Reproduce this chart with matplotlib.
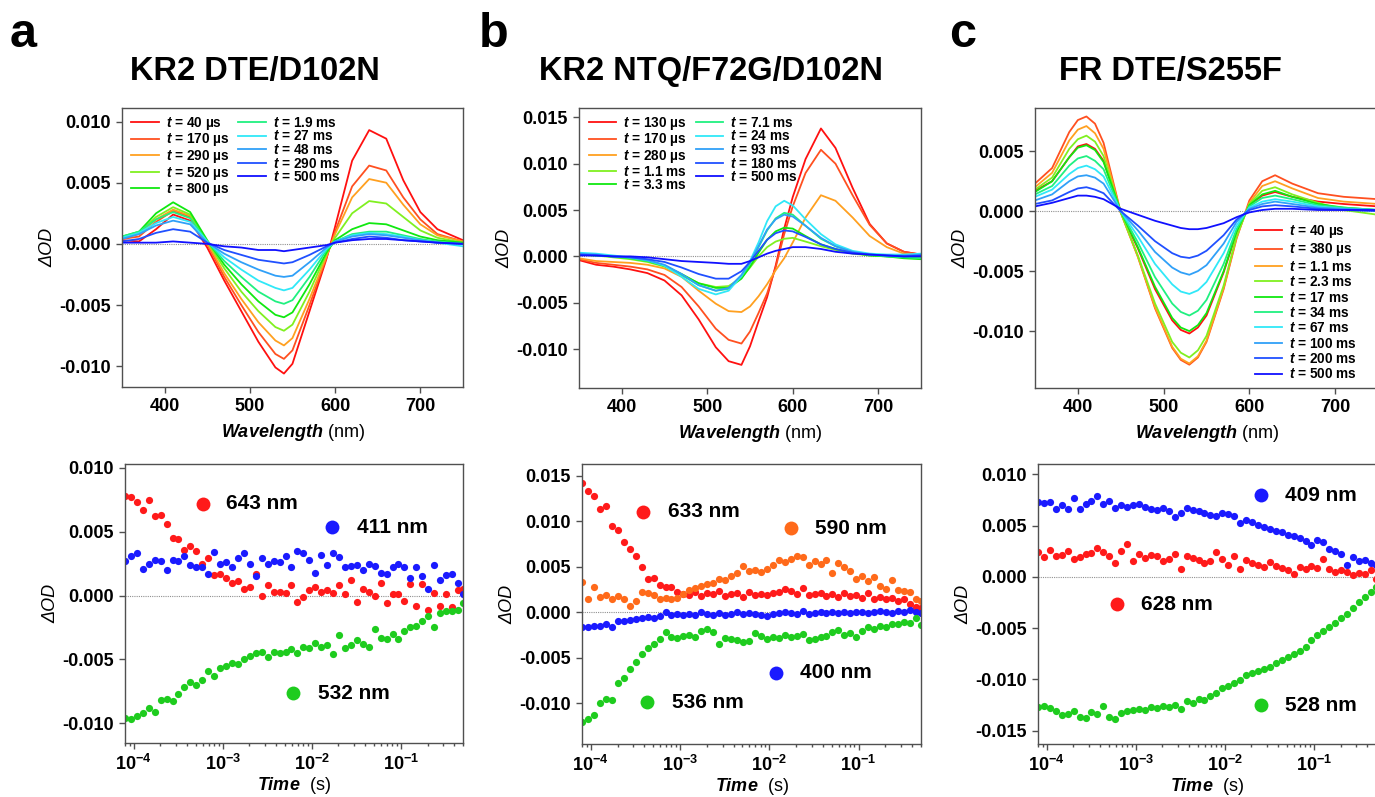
import matplotlib as mpl
mpl.use('Agg')
import matplotlib.pyplot as plt
import matplotlib.ticker as ticker
import numpy as np

plt.rcParams['font.family'] = ['Liberation Sans', 'DejaVu Sans']
plt.rcParams['font.weight'] = 'bold'
plt.rcParams['mathtext.fontset'] = 'custom'
plt.rcParams['mathtext.it'] = 'Liberation Sans:italic:bold'
plt.rcParams['mathtext.rm'] = 'Liberation Sans:bold'
plt.rcParams['mathtext.bf'] = 'Liberation Sans:bold'

# ---------------- spectra data ----------------
WL_A = [350, 370, 390, 410, 430, 450, 470, 490, 510, 530, 540, 550, 570, 590, 600, 620, 640, 660, 680, 700, 720, 750]
LABELS_A = ['40 µs', '170 µs', '290 µs', '520 µs', '800 µs', '1.9 ms', '27 ms', '48 ms', '290 ms', '500 ms']
SPEC_A = [
    [0.0003, 0.0002, 0.0012, 0.0024, 0.0019, -0.0003, -0.0030, -0.0055, -0.0080, -0.0101, -0.0106, -0.0098, -0.0055, -0.0012, 0.0014, 0.0068, 0.0093, 0.0086, 0.0052, 0.0026, 0.0012, 0.0003],
    [0.0004, 0.0006, 0.0018, 0.0027, 0.0022, 0.0000, -0.0027, -0.0050, -0.0072, -0.0090, -0.0094, -0.0087, -0.0050, -0.0011, 0.0010, 0.0047, 0.0064, 0.0060, 0.0038, 0.0020, 0.0008, 0.0002],
    [0.0005, 0.0008, 0.0020, 0.0028, 0.0023, 0.0001, -0.0024, -0.0045, -0.0064, -0.0079, -0.0083, -0.0077, -0.0045, -0.0010, 0.0008, 0.0038, 0.0053, 0.0050, 0.0032, 0.0016, 0.0007, 0.0002],
    [0.0005, 0.0009, 0.0022, 0.0030, 0.0024, 0.0002, -0.0020, -0.0039, -0.0055, -0.0068, -0.0071, -0.0066, -0.0039, -0.0008, 0.0005, 0.0025, 0.0035, 0.0033, 0.0022, 0.0011, 0.0005, 0.0001],
    [0.0006, 0.0010, 0.0025, 0.0034, 0.0026, 0.0003, -0.0017, -0.0033, -0.0047, -0.0058, -0.0060, -0.0056, -0.0033, -0.0007, 0.0003, 0.0012, 0.0017, 0.0016, 0.0011, 0.0006, 0.0003, 0.0001],
    [0.0006, 0.0010, 0.0020, 0.0026, 0.0021, 0.0002, -0.0014, -0.0027, -0.0039, -0.0047, -0.0049, -0.0046, -0.0027, -0.0005, 0.0002, 0.0008, 0.0010, 0.0010, 0.0007, 0.0004, 0.0002, 0.0000],
    [0.0005, 0.0009, 0.0017, 0.0022, 0.0018, 0.0002, -0.0011, -0.0021, -0.0030, -0.0036, -0.0038, -0.0036, -0.0021, -0.0004, 0.0002, 0.0007, 0.0009, 0.0008, 0.0006, 0.0003, 0.0001, -0.0002],
    [0.0004, 0.0008, 0.0015, 0.0019, 0.0016, 0.0001, -0.0008, -0.0015, -0.0021, -0.0026, -0.0027, -0.0026, -0.0015, -0.0003, 0.0002, 0.0006, 0.0008, 0.0007, 0.0005, 0.0003, 0.0001, 0.0000],
    [0.0002, 0.0004, 0.0009, 0.0012, 0.0010, 0.0001, -0.0005, -0.0009, -0.0013, -0.0015, -0.0016, -0.0015, -0.0009, -0.0002, 0.0001, 0.0004, 0.0006, 0.0005, 0.0003, 0.0002, 0.0001, 0.0000],
    [0.0001, 0.0001, 0.0001, 0.0002, 0.0001, 0.0000, -0.0002, -0.0003, -0.0005, -0.0005, -0.0006, -0.0005, -0.0003, -0.0001, 0.0001, 0.0003, 0.0004, 0.0004, 0.0003, 0.0002, 0.0001, 0.0000],
]

WL_B = [350, 370, 390, 410, 430, 450, 470, 490, 510, 525, 540, 550, 560, 570, 580, 590, 600, 615, 633, 650, 670, 690, 710, 730, 750]
LABELS_B = ['130 µs', '170 µs', '280 µs', '1.1 ms', '3.3 ms', '7.1 ms', '24 ms', '93 ms', '180 ms', '500 ms']
SPEC_B = [
    [-0.0004, -0.0009, -0.0011, -0.0014, -0.0018, -0.0026, -0.0042, -0.0068, -0.0098, -0.0113, -0.0117, -0.0097, -0.0070, -0.0044, -0.0010, 0.0030, 0.0064, 0.0105, 0.0138, 0.0117, 0.0074, 0.0035, 0.0014, 0.0005, 0.0002],
    [-0.0003, -0.0007, -0.0009, -0.0011, -0.0014, -0.0020, -0.0033, -0.0054, -0.0078, -0.0090, -0.0094, -0.0081, -0.0061, -0.0040, -0.0012, 0.0024, 0.0054, 0.0090, 0.0115, 0.0100, 0.0066, 0.0034, 0.0014, 0.0005, 0.0002],
    [-0.0002, -0.0005, -0.0006, -0.0007, -0.0009, -0.0013, -0.0022, -0.0037, -0.0051, -0.0059, -0.0060, -0.0054, -0.0043, -0.0030, -0.0015, -0.0002, 0.0015, 0.0042, 0.0066, 0.0060, 0.0042, 0.0022, 0.0010, 0.0003, 0.0001],
    [0.0002, 0.0001, -0.0001, -0.0003, -0.0006, -0.0011, -0.0020, -0.0029, -0.0033, -0.0032, -0.0023, -0.0012, 0.0000, 0.0010, 0.0016, 0.0019, 0.0020, 0.0016, 0.0011, 0.0007, 0.0003, 0.0001, 0.0000, -0.0001, -0.0001],
    [0.0002, 0.0001, 0.0000, -0.0002, -0.0005, -0.0010, -0.0019, -0.0029, -0.0034, -0.0034, -0.0024, -0.0011, 0.0004, 0.0018, 0.0027, 0.0031, 0.0030, 0.0022, 0.0013, 0.0008, 0.0004, 0.0001, 0.0000, -0.0002, -0.0003],
    [0.0002, 0.0001, 0.0000, -0.0002, -0.0005, -0.0010, -0.0020, -0.0031, -0.0037, -0.0035, -0.0022, -0.0008, 0.0010, 0.0028, 0.0041, 0.0047, 0.0045, 0.0033, 0.0019, 0.0011, 0.0005, 0.0002, 0.0000, -0.0001, -0.0002],
    [0.0004, 0.0003, 0.0001, -0.0001, -0.0004, -0.0010, -0.0022, -0.0035, -0.0041, -0.0037, -0.0021, -0.0005, 0.0015, 0.0038, 0.0054, 0.0060, 0.0055, 0.0040, 0.0024, 0.0013, 0.0006, 0.0003, 0.0002, 0.0002, 0.0003],
    [0.0003, 0.0002, 0.0000, -0.0001, -0.0004, -0.0009, -0.0019, -0.0031, -0.0037, -0.0034, -0.0020, -0.0006, 0.0011, 0.0029, 0.0040, 0.0045, 0.0043, 0.0033, 0.0020, 0.0011, 0.0005, 0.0002, 0.0001, 0.0001, 0.0002],
    [0.0002, 0.0001, 0.0000, -0.0001, -0.0003, -0.0006, -0.0012, -0.0019, -0.0024, -0.0024, -0.0016, -0.0006, 0.0006, 0.0018, 0.0025, 0.0028, 0.0027, 0.0021, 0.0013, 0.0008, 0.0004, 0.0002, 0.0001, 0.0000, 0.0001],
    [0.0001, 0.0001, 0.0000, 0.0000, -0.0001, -0.0003, -0.0005, -0.0006, -0.0007, -0.0008, -0.0008, -0.0005, -0.0001, 0.0003, 0.0006, 0.0008, 0.0010, 0.0010, 0.0008, 0.0005, 0.0003, 0.0002, 0.0001, 0.0000, 0.0000],
]

WL_C = [350, 370, 390, 400, 410, 420, 430, 450, 470, 490, 510, 520, 530, 540, 550, 570, 585, 600, 615, 630, 650, 680, 710, 750]
LABELS_C = ['40 µs', '380 µs', '1.1 ms', '2.3 ms', '17 ms', '34 ms', '67 ms', '100 ms', '200 ms', '500 ms']
SPEC_C = [
    [0.0017, 0.0025, 0.0045, 0.0054, 0.0056, 0.0052, 0.0042, -0.0001, -0.0031, -0.0065, -0.0091, -0.0099, -0.0102, -0.0097, -0.0087, -0.0051, -0.0018, 0.0005, 0.0013, 0.0016, 0.0012, 0.0008, 0.0006, 0.0004],
    [0.0023, 0.0036, 0.0066, 0.0076, 0.0079, 0.0073, 0.0057, -0.0001, -0.0038, -0.0081, -0.0114, -0.0124, -0.0128, -0.0122, -0.0109, -0.0065, -0.0023, 0.0009, 0.0025, 0.0030, 0.0023, 0.0015, 0.0012, 0.0010],
    [0.0020, 0.0032, 0.0059, 0.0068, 0.0071, 0.0065, 0.0052, -0.0001, -0.0038, -0.0080, -0.0113, -0.0123, -0.0127, -0.0121, -0.0108, -0.0064, -0.0022, 0.0007, 0.0021, 0.0025, 0.0019, 0.0011, 0.0008, 0.0006],
    [0.0018, 0.0028, 0.0052, 0.0060, 0.0063, 0.0058, 0.0046, -0.0001, -0.0037, -0.0077, -0.0109, -0.0118, -0.0122, -0.0116, -0.0104, -0.0062, -0.0021, 0.0006, 0.0017, 0.0020, 0.0014, 0.0007, 0.0001, -0.0003],
    [0.0016, 0.0025, 0.0045, 0.0053, 0.0055, 0.0051, 0.0041, 0.0000, -0.0030, -0.0063, -0.0089, -0.0097, -0.0100, -0.0095, -0.0085, -0.0050, -0.0017, 0.0005, 0.0014, 0.0017, 0.0012, 0.0006, 0.0003, 0.0001],
    [0.0014, 0.0021, 0.0038, 0.0044, 0.0046, 0.0042, 0.0035, 0.0000, -0.0026, -0.0055, -0.0077, -0.0084, -0.0087, -0.0083, -0.0074, -0.0044, -0.0015, 0.0004, 0.0011, 0.0013, 0.0010, 0.0005, 0.0003, 0.0001],
    [0.0012, 0.0018, 0.0031, 0.0036, 0.0038, 0.0035, 0.0029, 0.0000, -0.0021, -0.0044, -0.0061, -0.0067, -0.0069, -0.0066, -0.0059, -0.0035, -0.0012, 0.0003, 0.0008, 0.0010, 0.0008, 0.0004, 0.0002, 0.0001],
    [0.0009, 0.0014, 0.0025, 0.0029, 0.0030, 0.0028, 0.0023, 0.0000, -0.0016, -0.0034, -0.0047, -0.0051, -0.0053, -0.0050, -0.0045, -0.0027, -0.0009, 0.0002, 0.0006, 0.0008, 0.0006, 0.0003, 0.0002, 0.0001],
    [0.0006, 0.0009, 0.0016, 0.0019, 0.0020, 0.0018, 0.0015, 0.0000, -0.0012, -0.0025, -0.0035, -0.0038, -0.0039, -0.0037, -0.0033, -0.0020, -0.0007, 0.0001, 0.0004, 0.0005, 0.0004, 0.0002, 0.0001, 0.0000],
    [0.0004, 0.0007, 0.0011, 0.0013, 0.0013, 0.0012, 0.0010, 0.0002, -0.0003, -0.0008, -0.0012, -0.0014, -0.0015, -0.0015, -0.0014, -0.0010, -0.0005, -0.0001, 0.0001, 0.0002, 0.0002, 0.0001, 0.0001, 0.0001],
]

SPEC_COLORS = ['#ff1010', '#ff5020', '#ffa020', '#80f020', '#10e810',
               '#20f080', '#30e8f8', '#30a0f8', '#2050ff', '#1010ff']

# ---------------- kinetics data ----------------
TIME = [8.0e-5, 9.33e-5, 1.09e-4, 1.27e-4, 1.48e-4, 1.73e-4, 2.01e-4, 2.35e-4, 2.74e-4, 3.19e-4,
        3.72e-4, 4.34e-4, 5.06e-4, 5.90e-4, 6.89e-4, 8.03e-4, 9.36e-4, 1.09e-3, 1.27e-3, 1.49e-3,
        1.73e-3, 2.02e-3, 2.36e-3, 2.75e-3, 3.20e-3, 3.74e-3, 4.36e-3, 5.08e-3, 5.93e-3, 6.91e-3,
        8.06e-3, 9.40e-3, 1.10e-2, 1.28e-2, 1.49e-2, 1.74e-2, 2.03e-2, 2.36e-2, 2.76e-2, 3.22e-2,
        3.75e-2, 4.37e-2, 5.10e-2, 5.95e-2, 6.94e-2, 8.09e-2, 9.43e-2, 0.110, 0.128, 0.150,
        0.174, 0.203, 0.237, 0.277, 0.323, 0.376, 0.439, 0.50]

KIN_A_643 = [0.0078, 0.0077, 0.0073, 0.0067, 0.0075, 0.0062, 0.0063, 0.0056, 0.0045, 0.0044,
             0.0036, 0.0039, 0.0035, 0.0025, 0.0029, 0.0016, 0.0017, 0.0014, 0.0010, 0.0011,
             0.0005, 0.0007, 0.0017, 0.0000, 0.0008, 0.0003, 0.0003, 0.0002, 0.0008, -0.0005,
             -0.0001, 0.0004, 0.0007, 0.0003, 0.0004, 0.0002, 0.0008, 0.0001, 0.0012, -0.0005,
             0.0005, 0.0003, 0.0000, 0.0010, -0.0006, 0.0001, 0.0001, -0.0004, 0.0009, -0.0008,
             0.0009, -0.0011, 0.0002, -0.0008, 0.0001, -0.0009, 0.0004, 0.0005]
KIN_A_411 = [0.0027, 0.0031, 0.0033, 0.0021, 0.0025, 0.0028, 0.0027, 0.0020, 0.0028, 0.0027,
             0.0031, 0.0024, 0.0022, 0.0022, 0.0017, 0.0034, 0.0025, 0.0026, 0.0022, 0.0029,
             0.0033, 0.0025, 0.0015, 0.0029, 0.0025, 0.0027, 0.0026, 0.0031, 0.0022, 0.0035,
             0.0033, 0.0028, 0.0018, 0.0032, 0.0024, 0.0033, 0.0030, 0.0022, 0.0023, 0.0024,
             0.0020, 0.0025, 0.0023, 0.0018, 0.0017, 0.0022, 0.0025, 0.0022, 0.0014, 0.0022,
             0.0015, 0.0005, 0.0024, 0.0012, 0.0016, 0.0017, 0.0010, 0.0001]
KIN_A_532 = [-0.0096, -0.0097, -0.0094, -0.0092, -0.0088, -0.0091, -0.0082, -0.0081, -0.0083, -0.0077,
             -0.0072, -0.0068, -0.0070, -0.0066, -0.0059, -0.0063, -0.0057, -0.0055, -0.0053, -0.0054,
             -0.0050, -0.0047, -0.0045, -0.0044, -0.0048, -0.0044, -0.0045, -0.0044, -0.0042, -0.0045,
             -0.0040, -0.0041, -0.0037, -0.0040, -0.0039, -0.0046, -0.0031, -0.0041, -0.0039, -0.0035,
             -0.0038, -0.0040, -0.0026, -0.0033, -0.0034, -0.0030, -0.0034, -0.0028, -0.0025, -0.0024,
             -0.0020, -0.0016, -0.0025, -0.0014, -0.0012, -0.0012, -0.0011, -0.0006]

KIN_B_633 = [0.0142, 0.0133, 0.0128, 0.0113, 0.0117, 0.0095, 0.0090, 0.0077, 0.0069, 0.0062,
             0.0050, 0.0037, 0.0038, 0.0030, 0.0028, 0.0028, 0.0022, 0.0020, 0.0019, 0.0022,
             0.0018, 0.0021, 0.0020, 0.0023, 0.0018, 0.0020, 0.0021, 0.0017, 0.0022, 0.0019,
             0.0020, 0.0019, 0.0021, 0.0022, 0.0025, 0.0023, 0.0020, 0.0027, 0.0019, 0.0020,
             0.0021, 0.0018, 0.0020, 0.0017, 0.0021, 0.0018, 0.0019, 0.0016, 0.0021, 0.0014,
             0.0017, 0.0014, 0.0016, 0.0012, 0.0014, 0.0009, 0.0006, 0.0005]
KIN_B_590 = [0.0033, 0.0015, 0.0028, 0.0017, 0.0019, 0.0015, 0.0018, 0.0015, 0.0007, 0.0012,
             0.0022, 0.0021, 0.0019, 0.0015, 0.0016, 0.0014, 0.0016, 0.0020, 0.0024, 0.0027,
             0.0029, 0.0031, 0.0032, 0.0037, 0.0035, 0.0040, 0.0043, 0.0051, 0.0045, 0.0046,
             0.0044, 0.0048, 0.0052, 0.0057, 0.0055, 0.0059, 0.0062, 0.0061, 0.0052, 0.0056,
             0.0053, 0.0057, 0.0043, 0.0054, 0.0050, 0.0045, 0.0037, 0.0040, 0.0034, 0.0039,
             0.0029, 0.0025, 0.0035, 0.0024, 0.0023, 0.0022, 0.0014, 0.0012]
KIN_B_400 = [-0.0016, -0.0016, -0.0015, -0.0015, -0.0013, -0.0016, -0.0010, -0.0010, -0.0009, -0.0008,
             -0.0006, -0.0005, -0.0006, -0.0004, 0.0000, -0.0003, -0.0002, -0.0003, -0.0002, -0.0003,
             0.0000, -0.0002, -0.0003, -0.0001, -0.0003, -0.0002, 0.0000, -0.0002, -0.0001, -0.0002,
             -0.0003, -0.0004, -0.0002, -0.0001, 0.0000, -0.0001, -0.0002, 0.0001, -0.0002, -0.0001,
             0.0000, -0.0001, 0.0000, -0.0001, 0.0000, -0.0001, 0.0000, 0.0000, -0.0001, 0.0000,
             0.0001, 0.0000, -0.0001, 0.0001, 0.0000, 0.0002, 0.0000, -0.0001]
KIN_B_536 = [-0.0121, -0.0117, -0.0113, -0.0100, -0.0096, -0.0097, -0.0078, -0.0072, -0.0062, -0.0055,
             -0.0046, -0.0039, -0.0035, -0.0030, -0.0022, -0.0027, -0.0028, -0.0026, -0.0025, -0.0027,
             -0.0021, -0.0019, -0.0022, -0.0035, -0.0028, -0.0030, -0.0031, -0.0033, -0.0032, -0.0023,
             -0.0026, -0.0029, -0.0027, -0.0028, -0.0025, -0.0027, -0.0026, -0.0024, -0.0031, -0.0030,
             -0.0027, -0.0026, -0.0022, -0.0020, -0.0025, -0.0023, -0.0027, -0.0021, -0.0016, -0.0018,
             -0.0015, -0.0016, -0.0013, -0.0013, -0.0011, -0.0012, -0.0006, -0.0014]

KIN_C_409 = [0.0073, 0.0072, 0.0073, 0.0066, 0.0070, 0.0066, 0.0077, 0.0066, 0.0071, 0.0074,
             0.0079, 0.0071, 0.0074, 0.0067, 0.0070, 0.0068, 0.0070, 0.0071, 0.0068, 0.0066,
             0.0065, 0.0067, 0.0064, 0.0058, 0.0062, 0.0067, 0.0065, 0.0064, 0.0062, 0.0060,
             0.0059, 0.0062, 0.0061, 0.0059, 0.0052, 0.0055, 0.0053, 0.0051, 0.0049, 0.0047,
             0.0045, 0.0044, 0.0041, 0.0040, 0.0038, 0.0035, 0.0031, 0.0036, 0.0034, 0.0027,
             0.0025, 0.0022, 0.0012, 0.0019, 0.0015, 0.0016, 0.0013, 0.0012]
KIN_C_628 = [0.0024, 0.0019, 0.0026, 0.0020, 0.0021, 0.0025, 0.0017, 0.0019, 0.0022, 0.0023,
             0.0028, 0.0024, 0.0020, 0.0013, 0.0025, 0.0032, 0.0015, 0.0022, 0.0018, 0.0021,
             0.0020, 0.0015, 0.0017, 0.0022, 0.0008, 0.0020, 0.0018, 0.0016, 0.0013, 0.0015,
             0.0024, 0.0017, 0.0012, 0.0020, 0.0008, 0.0016, 0.0013, 0.0012, 0.0010, 0.0014,
             0.0011, 0.0009, 0.0007, 0.0003, 0.0010, 0.0008, 0.0011, 0.0009, 0.0017, 0.0008,
             0.0005, 0.0007, 0.0005, 0.0002, 0.0004, 0.0003, 0.0007, -0.0002]
KIN_C_528 = [-0.0127, -0.0126, -0.0128, -0.0131, -0.0135, -0.0134, -0.0131, -0.0137, -0.0138, -0.0132,
             -0.0134, -0.0126, -0.0137, -0.0139, -0.0133, -0.0131, -0.0130, -0.0129, -0.0130, -0.0127,
             -0.0128, -0.0126, -0.0127, -0.0125, -0.0129, -0.0121, -0.0123, -0.0119, -0.0120, -0.0116,
             -0.0113, -0.0108, -0.0106, -0.0104, -0.0101, -0.0096, -0.0094, -0.0092, -0.0090, -0.0088,
             -0.0084, -0.0081, -0.0078, -0.0075, -0.0072, -0.0068, -0.0062, -0.0057, -0.0053, -0.0049,
             -0.0045, -0.0040, -0.0036, -0.0030, -0.0025, -0.0020, -0.0015, -0.0010]

RED, ORANGE, GREEN, BLUE = '#ff1a1a', '#ff6a1a', '#1ecc1e', '#1a1aff'

FRAME = '#505050'


def style_axes(ax):
    for sp in ax.spines.values():
        sp.set_color(FRAME)
        sp.set_linewidth(1.0)
    ax.tick_params(which='both', direction='out', color=FRAME, width=1.0,
                   labelsize=13, labelcolor='black')
    ax.tick_params(which='major', length=4.5)
    ax.tick_params(which='minor', length=2.5)
    ax.yaxis.set_major_formatter(ticker.FormatStrFormatter('%.3f'))
    ax.axhline(0, color='#909090', lw=0.8, ls=(0, (1, 1)), zorder=0)
    ax.set_ylabel('ΔOD', fontsize=13, fontstyle='italic', labelpad=2)


def spectra_panel(ax, wl, spectra, labels, ylim, yticks):
    for y, c, lab in zip(spectra, SPEC_COLORS, labels):
        ax.plot(wl, y, color=c, lw=1.3, label='$t$ = ' + lab)
    ax.set_xlim(350, 750)
    ax.set_ylim(*ylim)
    ax.set_xticks([400, 500, 600, 700])
    ax.set_yticks(yticks)
    style_axes(ax)
    ax.set_xlabel('$Wavelength$ (nm)', fontsize=13, labelpad=5)


def kinetics_panel(ax, series, ylim, yticks):
    for y, c, name, dot_xy, txt_x in series:
        ax.plot(TIME, y, 'o', color=c, ms=5.2, mec='none')
        ax.plot([dot_xy[0]], [dot_xy[1]], 'o', color=c, ms=10, mec='none',
                transform=ax.transAxes, clip_on=False)
        ax.text(txt_x, dot_xy[1], name, transform=ax.transAxes, fontsize=15,
                va='center', ha='left')
    ax.set_xscale('log')
    ax.set_xlim(8.0e-5, 0.5)
    ax.set_ylim(*ylim)
    ax.set_yticks(yticks)
    ax.xaxis.set_minor_locator(ticker.LogLocator(base=10, subs=np.arange(2, 10)))
    ax.xaxis.set_minor_formatter(ticker.NullFormatter())
    style_axes(ax)
    ax.set_xlabel('$Time$  (s)', fontsize=13, labelpad=0.5)


LEG_KW = dict(frameon=False, fontsize=9.8, handlelength=2.0,
              handletextpad=0.5, borderaxespad=0.3)

fig = plt.figure(figsize=(13.75, 7.97), dpi=100)

# top row: transient spectra
ax_a = fig.add_axes([0.0887, 0.5144, 0.2480, 0.3500])
spectra_panel(ax_a, WL_A, SPEC_A, LABELS_A, (-0.0117, 0.0111),
              [-0.010, -0.005, 0.0, 0.005, 0.010])
ax_a.legend(loc='upper left', bbox_to_anchor=(0.0, 1.01), ncol=2, columnspacing=0.7,
            labelspacing=-0.03, **LEG_KW)

ax_b = fig.add_axes([0.4211, 0.5131, 0.2487, 0.3513])
spectra_panel(ax_b, WL_B, SPEC_B, LABELS_B, (-0.0142, 0.0160),
              [-0.010, -0.005, 0.0, 0.005, 0.010, 0.015])
ax_b.legend(loc='upper left', bbox_to_anchor=(0.0, 1.01), ncol=2, columnspacing=0.7,
            labelspacing=-0.03, **LEG_KW)

ax_c = fig.add_axes([0.7527, 0.5131, 0.2495, 0.3513])
spectra_panel(ax_c, WL_C, SPEC_C, LABELS_C, (-0.01475, 0.0086),
              [-0.010, -0.005, 0.0, 0.005])
ax_c.legend(loc='lower right', bbox_to_anchor=(0.965, -0.01), ncol=1,
            labelspacing=0.1, **LEG_KW)

# bottom row: kinetics
ax_d = fig.add_axes([0.0909, 0.0678, 0.2458, 0.3500])
kinetics_panel(ax_d, [
    (KIN_A_643, RED, '643 nm', (0.231, 0.857), 0.299),
    (KIN_A_411, BLUE, '411 nm', (0.612, 0.774), 0.686),
    (KIN_A_532, GREEN, '532 nm', (0.497, 0.179), 0.571),
], (-0.01155, 0.0103), [-0.010, -0.005, 0.0, 0.005, 0.010])

ax_e = fig.add_axes([0.4233, 0.0665, 0.2465, 0.3513])
kinetics_panel(ax_e, [
    (KIN_B_633, RED, '633 nm', (0.180, 0.829), 0.254),
    (KIN_B_590, ORANGE, '590 nm', (0.617, 0.771), 0.687),
    (KIN_B_400, BLUE, '400 nm', (0.572, 0.254), 0.643),
    (KIN_B_536, GREEN, '536 nm', (0.192, 0.150), 0.265),
], (-0.0145, 0.0163), [-0.010, -0.005, 0.0, 0.005, 0.010, 0.015])

ax_f = fig.add_axes([0.7549, 0.0665, 0.2458, 0.3513])
kinetics_panel(ax_f, [
    (KIN_C_409, BLUE, '409 nm', (0.660, 0.889), 0.731),
    (KIN_C_628, RED, '628 nm', (0.234, 0.500), 0.305),
    (KIN_C_528, GREEN, '528 nm', (0.660, 0.139), 0.731),
], (-0.0163, 0.0110), [-0.015, -0.010, -0.005, 0.0, 0.005, 0.010])

# panel letters and titles
for x, letter in [(0.007, 'a'), (0.348, 'b'), (0.690, 'c')]:
    fig.text(x, 0.941, letter, fontsize=35, fontweight='bold', va='baseline')
for x, title in [(0.1855, 'KR2 DTE/D102N'), (0.517, 'KR2 NTQ/F72G/D102N'), (0.851, 'FR DTE/S255F')]:
    fig.text(x, 0.899, title, fontsize=23.5, fontweight='bold', ha='center', va='baseline')

fig.savefig('out.png', dpi=100)
